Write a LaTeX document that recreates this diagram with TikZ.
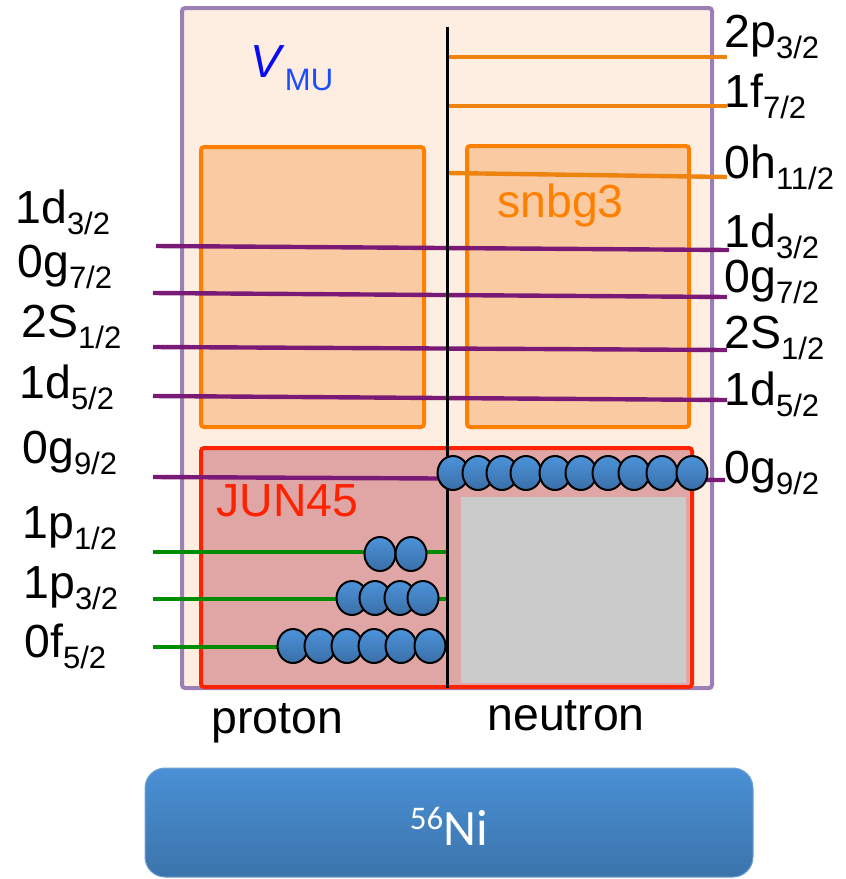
\documentclass[tikz,border=0pt]{standalone}
\usepackage{fontspec}
\setmainfont{Liberation Sans}
\newfontfamily\calfont{Carlito}
\usetikzlibrary{positioning}

\definecolor{shellfill}{HTML}{FDEEE1}
\definecolor{shelldraw}{HTML}{9B80B6}
\definecolor{sbfill}{HTML}{FACBA3}
\definecolor{sbdraw}{HTML}{FF8000}
\definecolor{olevel}{HTML}{EE8410}
\definecolor{plevel}{HTML}{7B1A76}
\definecolor{glevel}{HTML}{008C00}
\definecolor{jfill}{HTML}{E0A6A5}
\definecolor{jdraw}{HTML}{FF2200}
\definecolor{coregray}{HTML}{CBCBCB}
\definecolor{ballTop}{HTML}{4C93DA}
\definecolor{ballBot}{HTML}{3A6FA8}
\definecolor{niTop}{HTML}{4A90D5}
\definecolor{niBot}{HTML}{3B74AB}
\definecolor{niEdge}{HTML}{6FA2D6}
\definecolor{vblue}{HTML}{0A0AF5}
\definecolor{mublue}{HTML}{1A4DFF}

% orbital label: name + j/2 subscript
\newcommand\orb[2]{#1\raisebox{-5.5pt}{\fontsize{15.5}{16}\selectfont #2/2}}

\begin{document}
\begin{tikzpicture}[x=0.5pt,y=-0.5pt,
  lbl/.style={anchor=base west, inner sep=0pt, font=\fontsize{23.2}{26}\selectfont},
  lvl/.style={line width=2.2pt},
  nucleon/.style={draw=black, line width=1pt, top color=ballTop, bottom color=ballBot}]
  \useasboundingbox (0,0) rectangle (846,879);

  % model spaces
  \draw[shelldraw, fill=shellfill, line width=2pt, rounded corners=1.5pt] (182,8) rectangle (712,688);
  \draw[sbdraw, fill=sbfill, line width=2pt, rounded corners=1.5pt] (201,147) rectangle (424,427);
  \draw[sbdraw, fill=sbfill, line width=2pt, rounded corners=1.5pt] (467,146) rectangle (689,427);
  \draw[jdraw, fill=jfill, line width=2pt, rounded corners=1.5pt] (201,448) rectangle (692,687);
  \fill[coregray] (461,497) rectangle (686,683);

  \node[lbl, text=vblue] (vmu) at (250,77)
    {\textit{V}\raisebox{-6.5pt}{\fontsize{15.5}{16}\selectfont\color{mublue}MU}};
  \node[lbl, text=sbdraw] (snbg) at (497,217) {snbg3};
  \node[lbl, text=jdraw] (jun) at (216,516) {JUN45};

  % neutron levels above 0g9/2
  \foreach \n/\xa/\ya/\xb/\yb in {p32/447/57/727/57, f72/447/106/727/106, h112/447/173/727/177} {
    \coordinate (Ln\n) at (\xa,\ya);
    \coordinate (Rn\n) at (\xb,\yb);
    \draw[lvl, olevel] (Ln\n) -- (Rn\n);
  }
  % sdg shell
  \foreach \n/\xa/\ya/\xb/\yb in {d32/156/246/729/250, g72/153/293/727/297, s12/153/347/727/350,
                                 d52/153/396/727/400, g92/153/477/725/480} {
    \coordinate (L\n) at (\xa,\ya);
    \coordinate (R\n) at (\xb,\yb);
    \draw[lvl, plevel] (L\n) -- (R\n);
  }
  % fp shell (protons)
  \foreach \n/\y in {p12/552, p32/599, f52/647} {
    \coordinate (Lz\n) at (153,\y);
    \coordinate (Rz\n) at (447,\y);
    \draw[lvl, glevel] (Lz\n) -- (Rz\n);
  }

  \coordinate (divtop) at (447,27);
  \coordinate (divbot) at (447,688);
  \draw[line width=1.5pt] (divtop) -- (divbot);

  % occupied orbits
  \foreach \x in {380,411}
    \draw[nucleon] (\x,554) ellipse [x radius=15.5, y radius=17];
  \foreach \x in {352,375,400,423}
    \draw[nucleon] (\x,598) ellipse [x radius=15.5, y radius=17];
  \foreach \x in {293,320,347,374,401,430}
    \draw[nucleon] (\x,646) ellipse [x radius=15.5, y radius=17];
  \foreach \x in {453,478,502,526,555,581,608,634,662,692}
    \draw[nucleon] (\x,473) ellipse [x radius=15.5, y radius=17];

  % labels
  \foreach \n/\o/\j/\x/\y in {ld32/1d/3/15/223, lg72/0g/7/17/277, ls12/2S/1/21/337, ld52/1d/5/19/398,
                             lg92/0g/9/22/463, lp12/1p/1/22/538, lp32/1p/3/23/598, lf52/0f/5/24/657}
    \node[lbl] (\n) at (\x,\y) {\orb{\o}{\j}};
  \foreach \n/\o/\j/\y in {rp32/2p/3/47, rf72/1f/7/107, rh112/0h/11/178, rd32/1d/3/247,
                          rg72/0g/7/292, rs12/2S/1/348, rd52/1d/5/405, rg92/0g/9/483}
    \node[lbl] (\n) at (724,\y) {\orb{\o}{\j}};

  \node[lbl] (prot) at (211,733) {proton};
  \node[lbl] (neut) at (487,730) {neutron};

  % core
  \shade[top color=niTop, bottom color=niBot, draw=niEdge, line width=0.5pt, rounded corners=10pt]
    (145,768) rectangle (753,877);
  \node[anchor=base, inner sep=0pt, text=white, font=\calfont\fontsize{25.5}{30}\selectfont] (ni) at (449,845)
    {\raisebox{8pt}{\fontsize{16.5}{17}\selectfont 56}Ni};
\end{tikzpicture}
\end{document}
